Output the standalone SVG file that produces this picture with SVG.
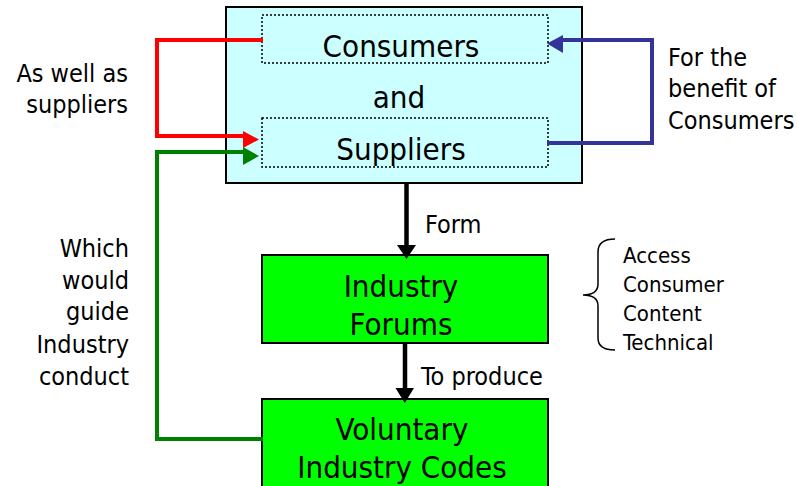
<svg xmlns="http://www.w3.org/2000/svg" width="797" height="486" viewBox="0 0 797 486">
<style>
text{font-family:'DejaVu Sans Condensed','DejaVu Sans',sans-serif;font-stretch:condensed;fill:#000}
.big{font-size:31px;text-anchor:middle}
.lbl{font-size:25px}
.r{text-anchor:end}
.sm{font-size:22px}
.dot{fill:none;stroke:#000;stroke-width:1.5;stroke-dasharray:2 2}
.conn{fill:none;stroke-width:4;stroke-linejoin:miter;stroke-linecap:butt}
</style>
<rect width="797" height="486" fill="#fff"/>
<g id="consumers-suppliers">
<rect x="226" y="7" width="356" height="176" fill="#CCFFFF" stroke="#000" stroke-width="2"/>
<rect class="dot" x="262" y="15" width="286" height="48"/>
<rect class="dot" x="262" y="118" width="286" height="49"/>
<text class="big" x="401" y="57">Consumers</text>
<text class="big" x="399" y="108">and</text>
<text class="big" x="401" y="160">Suppliers</text>
</g>
<g id="industry-forums">
<rect x="262" y="255" width="286" height="88" fill="#00FF00" stroke="#000" stroke-width="2"/>
<text class="big" x="401" y="297">Industry</text>
<text class="big" x="401" y="335">Forums</text>
</g>
<g id="voluntary-codes">
<rect x="262" y="399" width="286" height="100" fill="#00FF00" stroke="#000" stroke-width="2"/>
<text class="big" x="402" y="440">Voluntary</text>
<text class="big" x="402" y="478">Industry Codes</text>
</g>
<g id="forum-types">
<path d="M615,239 Q598,239 598,252 L598,284 Q598,295 583,295 Q598,295 598,306 L598,338 Q598,350 615,350" fill="none" stroke="#000" stroke-width="1.5"/>
<text class="sm" x="623" y="263">Access</text>
<text class="sm" x="623" y="292">Consumer</text>
<text class="sm" x="623" y="321">Content</text>
<text class="sm" x="623" y="350">Technical</text>
</g>
<g id="connectors">
<path class="conn" stroke="#FF0000" d="M263,40 H157 V136 H245"/>
<polygon fill="#FF0000" points="243,131 259,139.5 243,148"/>
<path class="conn" stroke="#008000" d="M263,439 H157 V152 H245"/>
<polygon fill="#008000" points="243,147 259,156 243,165"/>
<path class="conn" stroke="#333399" d="M547,143 H652 V40 H562"/>
<polygon fill="#333399" points="563,35 547,43.5 563,53"/>
<line x1="406.5" y1="183" x2="406.5" y2="246" stroke="#000" stroke-width="4.5"/>
<polygon fill="#000" points="397,245 416,245 406.5,259"/>
<line x1="405" y1="343" x2="405" y2="389" stroke="#000" stroke-width="4.5"/>
<polygon fill="#000" points="395.5,388 414,388 404.8,403"/>
<text class="lbl" x="425" y="233">Form</text>
<text class="lbl" x="421" y="385">To produce</text>
<text class="lbl r" x="128" y="82">As well as</text>
<text class="lbl r" x="128" y="113">suppliers</text>
<text class="lbl" x="668" y="66">For the</text>
<text class="lbl" x="668" y="97">benefit of</text>
<text class="lbl" x="668" y="129">Consumers</text>
<text class="lbl r" x="129" y="257">Which</text>
<text class="lbl r" x="129" y="289">would</text>
<text class="lbl r" x="129" y="320">guide</text>
<text class="lbl r" x="129" y="353">Industry</text>
<text class="lbl r" x="129" y="385">conduct</text>
</g>
</svg>
